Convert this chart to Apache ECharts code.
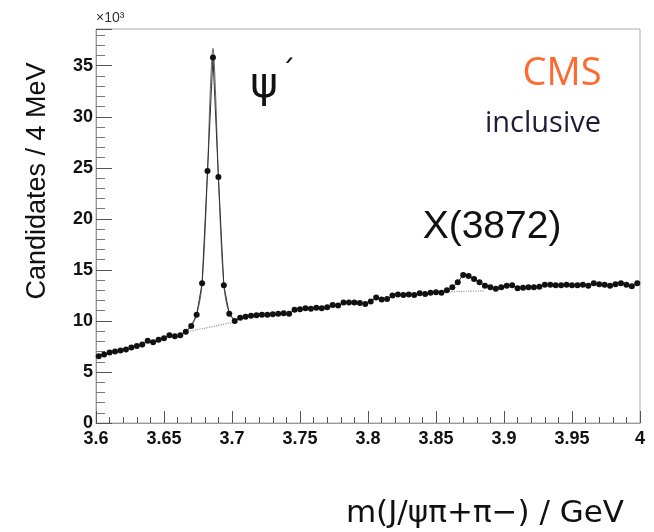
<!DOCTYPE html>
<html>
<head>
<meta charset="utf-8">
<script src="https://cdn.jsdelivr.net/npm/echarts@6/dist/echarts.min.js"></script>
<style>
html,body{margin:0;padding:0;background:#fff;}
#c{width:654px;height:532px;}
</style>
</head>
<body>
<div id="c"></div>
<script>
// Bin centres (GeV), 4 MeV bins from 3.6 to 4.0
const binStart = 3.602;
const binWidth = 0.004;
// Candidates / 4 MeV in units of 10^3
const counts = [
  6.55, 6.7, 6.9, 7.0, 7.1, 7.2, 7.4, 7.55, 7.7, 8.05,
  7.9, 8.15, 8.3, 8.6, 8.5, 8.6, 8.95, 9.5, 10.6, 13.7,
  24.7, 35.8, 24.1, 13.5, 10.7, 10.0, 10.3, 10.4, 10.5, 10.55,
  10.6, 10.6, 10.65, 10.7, 10.75, 10.7, 11.1, 11.15, 11.25, 11.2,
  11.3, 11.25, 11.35, 11.55, 11.5, 11.8, 11.8, 11.8, 11.75, 11.65,
  11.9, 12.3, 12.1, 12.15, 12.5, 12.6, 12.55, 12.6, 12.55, 12.7,
  12.65, 12.75, 12.8, 12.75, 13.0, 13.3, 13.8, 14.5, 14.4, 14.1,
  13.8, 13.45, 13.3, 13.15, 13.3, 13.45, 13.5, 13.2, 13.25, 13.3,
  13.3, 13.35, 13.55, 13.55, 13.5, 13.5, 13.55, 13.5, 13.5, 13.55,
  13.45, 13.7, 13.6, 13.55, 13.45, 13.6, 13.7, 13.55, 13.4, 13.7
];
// Fit curve through the psi(2S) peak
const fitPeakX = [3.666, 3.670, 3.674, 3.678, 3.682, 3.684, 3.686, 3.688, 3.690, 3.694, 3.698, 3.702];
const fitPeakY = [8.95, 9.5, 10.6, 13.6, 24.6, 32.5, 36.7, 32.0, 24.1, 13.5, 10.7, 10.1];
// Background fit (dotted) under the two peaks
const bgX1 = [3.664, 3.684, 3.704];
const bgY1 = [8.85, 9.4, 9.95];
const bgX2 = [3.856, 3.870, 3.886];
const bgY2 = [12.85, 12.9, 12.95];
// Axis ticks
const xTicks = [3.6, 3.65, 3.7, 3.75, 3.8, 3.85, 3.9, 3.95, 4.0];
const yTicks = [0, 5, 10, 15, 20, 25, 30, 35];

const dataPts = counts.map((v, i) => [+(binStart + i * binWidth).toFixed(3), v]);
const fitPts = fitPeakX.map((x, i) => [x, fitPeakY[i]]);
const bgPts = bgX1.map((x, i) => [x, bgY1[i]]).concat([[null, null]]).concat(bgX2.map((x, i) => [x, bgY2[i]]));

const chart = echarts.init(document.getElementById('c'), null, {renderer: 'canvas'});
const tickFont = {fontFamily: 'Liberation Sans, Arial, sans-serif', fontWeight: 'bold', fontSize: 18, color: '#111'};
chart.setOption({
  backgroundColor: '#fff',
  animation: false,
  grid: {left: 96, right: 14, top: 29, bottom: 109, show: true, borderColor: '#aaa', borderWidth: 1},
  xAxis: {
    type: 'value', min: xTicks[0], max: xTicks[xTicks.length - 1], interval: 0.05,
    axisLine: {show: true, lineStyle: {color: '#999', width: 1}},
    axisTick: {show: true, inside: true, length: 12, lineStyle: {color: '#555'}},
    minorTick: {show: true, splitNumber: 5, length: 6, lineStyle: {color: '#555'}},
    splitLine: {show: false},
    axisLabel: Object.assign({margin: 7, formatter: v => String(+v.toFixed(2))}, tickFont)
  },
  yAxis: {
    type: 'value', min: yTicks[0], max: 38.6, interval: 5,
    axisLine: {show: true, lineStyle: {color: '#999', width: 1}},
    axisTick: {show: true, inside: true, length: 16, lineStyle: {color: '#555'}},
    minorTick: {show: true, splitNumber: 5, length: 9, lineStyle: {color: '#777'}},
    splitLine: {show: false},
    axisLabel: Object.assign({margin: 3, showMaxLabel: false, formatter: v => yTicks.includes(v) ? String(v) : ''}, tickFont)
  },
  series: [
    {
      type: 'line', data: bgPts, connectNulls: false, showSymbol: false, symbol: 'none',
      lineStyle: {color: '#999', width: 1.2, type: 'dotted'}, z: 1
    },
    {
      type: 'line', data: fitPts, smooth: 0.35, symbol: 'none',
      lineStyle: {color: '#666', width: 1}, z: 2
    },
    {
      type: 'line', data: dataPts, symbol: 'circle', symbolSize: 6,
      itemStyle: {color: '#111'},
      lineStyle: {color: '#333', width: 1}, z: 3
    }
  ],
  graphic: [
    {type: 'text', left: 96, top: 11, style: {text: '×10³', fontFamily: 'Liberation Sans, Arial', fontSize: 14, fill: '#333'}},
    {type: 'text', x: 38, y: 181, rotation: Math.PI / 2, style: {text: 'Candidates / 4 MeV', fontFamily: 'Liberation Sans, Arial', fontSize: 27, fill: '#111', align: 'center', verticalAlign: 'middle'}},
    {type: 'text', x: 485, y: 514, style: {text: 'm(J/ψπ+π−) / GeV', fontFamily: 'DejaVu Sans, Verdana', fontSize: 31, fill: '#111', align: 'center', verticalAlign: 'middle'}},
    {type: 'text', x: 264, y: 86, style: {text: 'ψ', fontFamily: 'DejaVu Sans, sans-serif', fontSize: 42, fill: '#111', align: 'center', verticalAlign: 'middle'}},
    {type: 'text', x: 288, y: 74, style: {text: '´', fontFamily: 'DejaVu Sans, sans-serif', fontSize: 30, fill: '#111', align: 'center', verticalAlign: 'middle'}},
    {type: 'text', x: 492, y: 227, style: {text: 'X(3872)', fontFamily: 'Liberation Sans, Arial', fontSize: 39, fill: '#111', align: 'center', verticalAlign: 'middle'}},
    {type: 'text', x: 562, y: 74, style: {text: 'CMS', fontFamily: 'Open Sans, Noto Sans, sans-serif', fontSize: 38, fill: '#ff6a2e', align: 'center', verticalAlign: 'middle'}},
    {type: 'text', x: 543, y: 124, style: {text: 'inclusive', fontFamily: 'Open Sans, Noto Sans, sans-serif', fontSize: 29, fill: '#1c1c3a', align: 'center', verticalAlign: 'middle'}}
  ]
});
</script>
</body>
</html>
